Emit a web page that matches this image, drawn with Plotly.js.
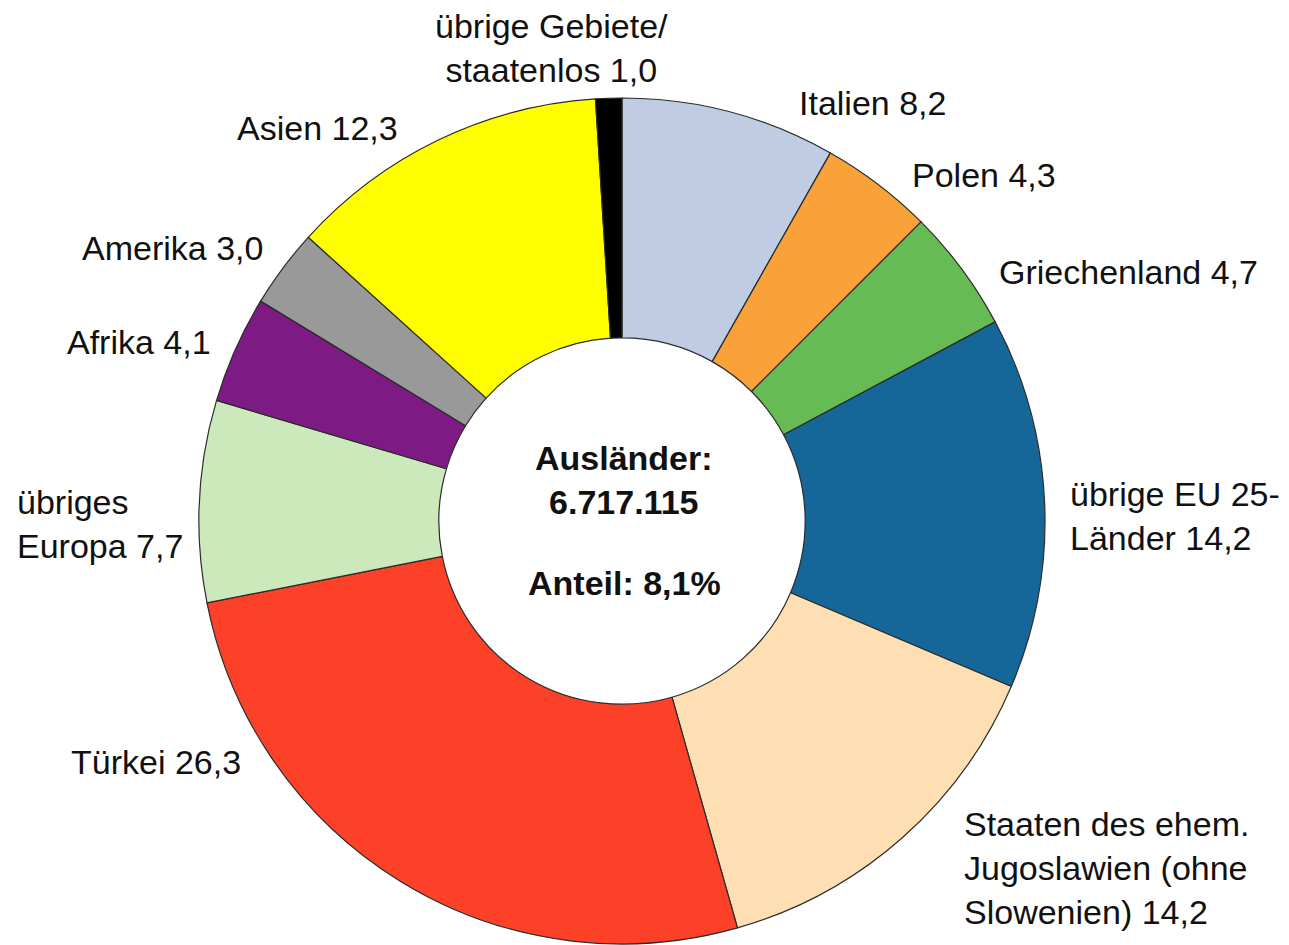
<!DOCTYPE html>
<html>
<head>
<meta charset="utf-8">
<script src="https://cdn.plot.ly/plotly-3.0.1.min.js"></script>
<style>
  html, body { margin: 0; padding: 0; background: #ffffff; }
  #chart { width: 1289px; height: 945px; }
</style>
</head>
<body>
<div id="chart"></div>
<script>
// ---- Data ----
const categories = [
  "Italien", "Polen", "Griechenland", "übrige EU 25-Länder",
  "Staaten des ehem. Jugoslawien (ohne Slowenien)", "Türkei",
  "übriges Europa", "Afrika", "Amerika", "Asien", "übrige Gebiete/staatenlos"
];
const displayNames = [
  "Italien", "Polen", "Griechenland", "übrige EU 25-<br>Länder",
  "Staaten des ehem.<br>Jugoslawien (ohne<br>Slowenien)", "Türkei",
  "übriges<br>Europa", "Afrika", "Amerika", "Asien", "übrige Gebiete/<br>staatenlos"
];
const shares = [8.2, 4.3, 4.7, 14.2, 14.2, 26.3, 7.7, 4.1, 3.0, 12.3, 1.0];
const sliceColors = [
  "#bfcce3", "#f9a23a", "#66bb55", "#156799", "#fddfb3", "#fd4128",
  "#cce9bc", "#7d1a84", "#999999", "#ffff00", "#000000"
];
const centerTitle = "Ausländer:";
const centerTotal = "6.717.115";
const centerShare = "Anteil: 8,1%";

// ---- Layout helpers (positions in pixels of the 1289x945 page) ----
const W = 1289, H = 945;
const cx = 622, cy = 521, R = 423;
const px = x => x / W;
const py = y => 1 - y / H;

// label anchor positions, one per category (layout only)
const labelPos = [
  {x: 797, y: 103, xa: "left",   align: "left"},
  {x: 910, y: 175, xa: "left",   align: "left"},
  {x: 997, y: 272, xa: "left",   align: "left"},
  {x: 1068, y: 516, xa: "left",  align: "left"},
  {x: 962, y: 868, xa: "left",   align: "left"},
  {x: 243, y: 762, xa: "right",  align: "right"},
  {x: 15,  y: 524, xa: "left",   align: "left"},
  {x: 213, y: 342, xa: "right",  align: "right"},
  {x: 265, y: 248, xa: "right",  align: "right"},
  {x: 400, y: 128, xa: "right",  align: "right"},
  {x: 551, y: 48,  xa: "center", align: "center"}
];

const fmt = v => v.toFixed(1).replace(".", ",");
const labelFont = {family: "Liberation Sans, Arial, sans-serif", size: 34, color: "#111111"};

const annotations = categories.map((c, i) => ({
  xref: "paper", yref: "paper",
  x: px(labelPos[i].x), y: py(labelPos[i].y),
  xanchor: labelPos[i].xa, yanchor: "middle", align: labelPos[i].align,
  text: displayNames[i] + " " + fmt(shares[i]),
  showarrow: false, font: labelFont
}));

const centerFont = {family: "Liberation Sans, Arial, sans-serif", size: 34, color: "#111111"};
annotations.push({
  xref: "paper", yref: "paper", x: px(624), y: py(480),
  xanchor: "center", yanchor: "middle", align: "center",
  text: "<b>" + centerTitle + "</b><br><b>" + centerTotal + "</b>",
  showarrow: false, font: centerFont
});
annotations.push({
  xref: "paper", yref: "paper", x: px(624), y: py(583),
  xanchor: "center", yanchor: "middle", align: "center",
  text: "<b>" + centerShare + "</b>",
  showarrow: false, font: centerFont
});

const trace = {
  type: "pie",
  labels: categories,
  values: shares,
  sort: false,
  direction: "clockwise",
  rotation: 0,
  hole: 0.433,
  textinfo: "none",
  hoverinfo: "label+value",
  marker: { colors: sliceColors, line: { color: "#2b2b2b", width: 1.2 } },
  domain: { x: [px(cx - R), px(cx + R)], y: [py(cy + R), py(cy - R)] },
  showlegend: false
};

const layout = {
  width: W, height: H,
  margin: {l: 0, r: 0, t: 0, b: 0},
  paper_bgcolor: "#ffffff",
  plot_bgcolor: "#ffffff",
  showlegend: false,
  annotations: annotations
};

Plotly.newPlot("chart", [trace], layout, {displayModeBar: false, staticPlot: true});
</script>
</body>
</html>
